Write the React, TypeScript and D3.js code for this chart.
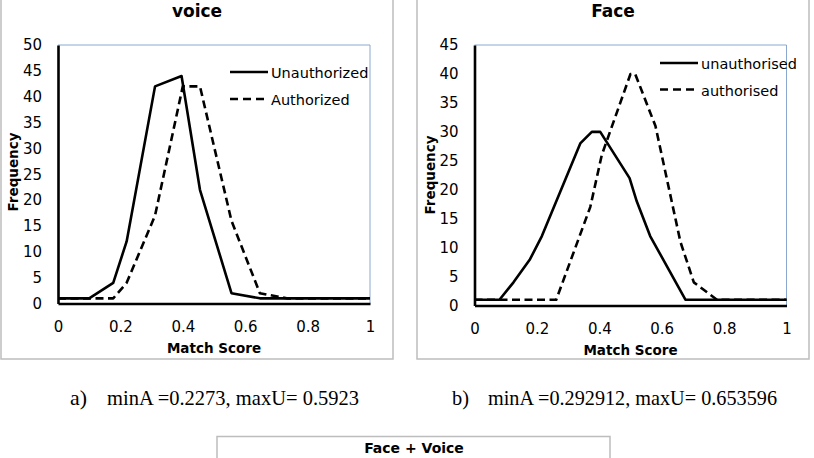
import React, { useRef, useEffect } from "react"
import * as d3 from "d3"

const W = 814
const H = 458

// voice match-score histograms
const voiceUnauthScore = [0, 0.1, 0.177, 0.22, 0.311, 0.396, 0.455, 0.556, 0.647, 1]
const voiceUnauthFreq = [1, 1, 4, 12, 42, 44, 22, 2, 1, 1]
const voiceAuthScore = [0, 0.177, 0.22, 0.311, 0.4, 0.455, 0.556, 0.647, 0.733, 1]
const voiceAuthFreq = [1, 1, 4, 17, 42, 42, 16, 2, 1, 1]

// face match-score histograms
const faceUnauthScore = [0, 0.08, 0.125, 0.178, 0.216, 0.339, 0.376, 0.403, 0.497, 0.52, 0.563, 0.676, 1]
const faceUnauthFreq = [1, 1, 4, 8, 12, 28, 30, 30, 22, 18, 12, 1, 1]
const faceAuthScore = [0, 0.262, 0.371, 0.408, 0.5, 0.515, 0.58, 0.66, 0.703, 0.777, 1]
const faceAuthFreq = [1, 1, 17, 26, 40, 40, 31, 11, 4, 1, 1]

const scoreTicks = [0, 0.2, 0.4, 0.6, 0.8, 1]
const voiceFreqTicks = [0, 5, 10, 15, 20, 25, 30, 35, 40, 45, 50]
const faceFreqTicks = [0, 5, 10, 15, 20, 25, 30, 35, 40, 45]

const voiceLegend = ["Unauthorized", "Authorized"]
const faceLegend = ["unauthorised", "authorised"]

const captionA = ["a)", "minA =0.2273, maxU= 0.5923"]
const captionB = ["b)", "minA =0.292912, maxU= 0.653596"]

const SANS = "'DejaVu Sans', sans-serif"
const SERIF = "'Liberation Serif', 'Times New Roman', serif"

type Panel = {
  box: [number, number, number, number]
  plot: { left: number, top: number, right: number, bottom: number }
  yTicks: number[]
  title: string
  legend: string[]
  legendPos: { x: number, y1: number, y2: number }
  freqPos: [number, number]
  series: { score: number[], freq: number[], dashed: boolean }[]
}

const panels: Panel[] = [
  {
    box: [1, -5, 392, 364],
    plot: { left: 58, top: 45, right: 370, bottom: 303.5 },
    yTicks: voiceFreqTicks,
    title: "voice",
    legend: voiceLegend,
    legendPos: { x: 230, y1: 72, y2: 99 },
    freqPos: [18, 172],
    series: [
      { score: voiceUnauthScore, freq: voiceUnauthFreq, dashed: false },
      { score: voiceAuthScore, freq: voiceAuthFreq, dashed: true },
    ],
  },
  {
    box: [417, -5, 392, 364],
    plot: { left: 474.5, top: 45, right: 786.5, bottom: 305.5 },
    yTicks: faceFreqTicks,
    title: "Face",
    legend: faceLegend,
    legendPos: { x: 660, y1: 63, y2: 89.5 },
    freqPos: [435, 175],
    series: [
      { score: faceUnauthScore, freq: faceUnauthFreq, dashed: false },
      { score: faceAuthScore, freq: faceAuthFreq, dashed: true },
    ],
  },
]

const App = () => {
  const element = useRef<SVGSVGElement>(null)

  useEffect(() => {
    const svg = d3.select(element.current)
    svg.selectAll("*").remove()

    svg.append("rect").attr("width", W).attr("height", H).attr("fill", "#fff")

    panels.forEach(p => {
      const { left, top, right, bottom } = p.plot
      const g = svg.append("g")

      g.append("rect")
        .attr("x", p.box[0]).attr("y", p.box[1])
        .attr("width", p.box[2]).attr("height", p.box[3])
        .attr("fill", "none").attr("stroke", "#bdbdbd").attr("stroke-width", 1.5)

      const x = d3.scaleLinear().domain([0, 1]).range([left, right])
      const y = d3.scaleLinear().domain([0, d3.max(p.yTicks) as number]).range([bottom, top])

      // plot area frame (top and right edges)
      g.append("path")
        .attr("d", `M${left},${top}H${right}V${bottom}`)
        .attr("fill", "none").attr("stroke", "#8aa8cf").attr("stroke-width", 1)

      const xAxis = g.append("g")
        .attr("transform", `translate(0,${bottom})`)
        .call(d3.axisBottom(x).tickValues(scoreTicks).tickSize(0).tickSizeOuter(0).tickFormat(d => String(d)))
      xAxis.select(".domain").attr("stroke", "#000").attr("stroke-width", 2.6)
      xAxis.selectAll("text")
        .attr("y", 28).attr("dy", null)
        .attr("font-family", SANS).attr("font-size", 15).attr("fill", "#000")

      const yAxis = g.append("g")
        .attr("transform", `translate(${left},0)`)
        .call(d3.axisLeft(y).tickValues(p.yTicks).tickSize(0).tickSizeOuter(0))
      yAxis.select(".domain").attr("stroke", "#000").attr("stroke-width", 2.6)
      yAxis.selectAll("text")
        .attr("x", -16)
        .attr("font-family", SANS).attr("font-size", 15).attr("fill", "#000")

      const line = d3.line<[number, number]>()
        .x(d => x(d[0]))
        .y(d => y(d[1]))

      p.series.forEach(s => {
        const pts = s.score.map((v, i) => [v, s.freq[i]] as [number, number])
        g.append("path")
          .attr("d", line(pts))
          .attr("fill", "none")
          .attr("stroke", "#000")
          .attr("stroke-width", 2.6)
          .attr("stroke-linejoin", "round")
          .attr("stroke-dasharray", s.dashed ? "8,4.5" : null)
      })

      // legend
      const lg = p.legendPos
      ;[lg.y1, lg.y2].forEach((ly, i) => {
        const dashed = p.series[i].dashed
        g.append("line")
          .attr("x1", lg.x).attr("x2", lg.x + (dashed ? 34 : 38))
          .attr("y1", ly).attr("y2", ly)
          .attr("stroke", "#000").attr("stroke-width", 2.6)
          .attr("stroke-dasharray", dashed ? "8,5" : null)
        g.append("text")
          .attr("x", lg.x + 41).attr("y", ly + 6)
          .attr("font-family", SANS).attr("font-size", 14.5)
          .text(p.legend[i])
      })

      g.append("text")
        .attr("x", p.box[0] + p.box[2] / 2).attr("y", 17)
        .attr("text-anchor", "middle")
        .attr("font-family", SANS).attr("font-size", 17).attr("font-weight", "bold")
        .text(p.title)

      g.append("text")
        .attr("x", (left + right) / 2).attr("y", bottom + 49)
        .attr("text-anchor", "middle")
        .attr("font-family", SANS).attr("font-size", 13.5).attr("font-weight", "bold")
        .text("Match Score")

      g.append("text")
        .attr("transform", `translate(${p.freqPos[0]},${p.freqPos[1]}) rotate(-90)`)
        .attr("text-anchor", "middle")
        .attr("font-family", SANS).attr("font-size", 13.5).attr("font-weight", "bold")
        .text("Frequency")
    })

    // captions under the panels
    const captions: [string[], number, number, number][] = [
      [captionA, 70, 107, 252],
      [captionB, 452, 488, 289],
    ]
    captions.forEach(([c, xa, xb, len]) => {
      svg.append("text")
        .attr("x", xa).attr("y", 405)
        .attr("font-family", SERIF).attr("font-size", 22)
        .attr("textLength", 17).attr("lengthAdjust", "spacingAndGlyphs")
        .text(c[0])
      svg.append("text")
        .attr("x", xb).attr("y", 405)
        .attr("font-family", SERIF).attr("font-size", 22)
        .attr("textLength", len).attr("lengthAdjust", "spacingAndGlyphs")
        .text(c[1])
    })

    // combined panel, only its top shows
    svg.append("rect")
      .attr("x", 217).attr("y", 436.5).attr("width", 393).attr("height", 60)
      .attr("fill", "none").attr("stroke", "#bdbdbd").attr("stroke-width", 1.5)
    svg.append("text")
      .attr("x", 414).attr("y", 453)
      .attr("text-anchor", "middle")
      .attr("font-family", SANS).attr("font-size", 14).attr("font-weight", "bold")
      .text("Face + Voice")
  }, [])

  return (
    <svg ref={element} width={W} height={H}
      style={{ position: "absolute", left: 0, top: 0, display: "block" }} />
  )
}

export default App
